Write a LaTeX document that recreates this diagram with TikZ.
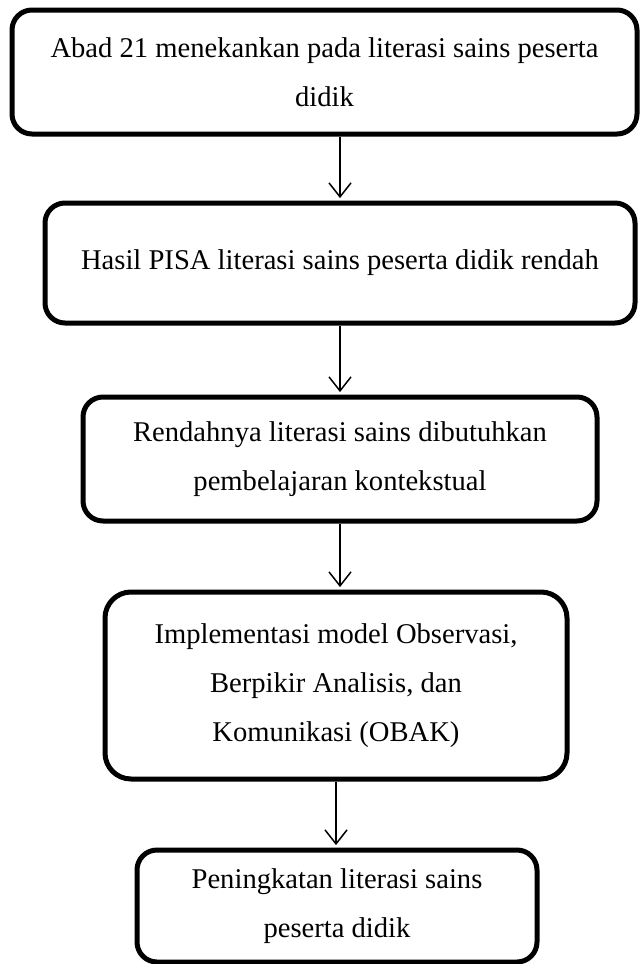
\documentclass[tikz,border=0pt]{standalone}
\usepackage{fontspec}
\setmainfont{Liberation Serif}
\usetikzlibrary{arrows.meta}

\begin{document}
\begin{tikzpicture}[x=0.5pt, y=-0.5pt,
  box/.style={draw, line width=2.5pt, rounded corners=10pt, align=center,
              inner sep=0pt, font=\fontsize{14.3}{24.6}\selectfont},
  arrow/.style={-{Straight Barb[length=7pt,width=11pt]}, line width=0.75pt,
                shorten >=1.2pt},
]
\useasboundingbox (0,0) rectangle (640,964);
% alur kerangka berpikir
\node[box, minimum width=312.5pt, minimum height=62pt] (abad) at (324.5,72)
  {Abad 21 menekankan pada literasi sains peserta\\didik};
\node[box, minimum width=295pt, minimum height=60pt] (pisa) at (340,263)
  {Hasil PISA literasi sains peserta didik rendah};
\node[box, minimum width=257pt, minimum height=62pt] (rendah) at (340,459)
  {Rendahnya literasi sains dibutuhkan\\pembelajaran kontekstual};
\node[box, rounded corners=13pt, minimum width=231pt, minimum height=93.5pt]
  (obak) at (336,685.5)
  {Implementasi model Observasi,\\Berpikir Analisis, dan\\Komunikasi (OBAK)};
\node[box, minimum width=200pt, minimum height=56pt] (naik) at (337,906)
  {Peningkatan literasi sains\\peserta didik};

\draw[arrow] (pisa.north |- abad.south) -- (pisa.north);
\draw[arrow] (pisa.south) -- (pisa.south |- rendah.north);
\draw[arrow] (rendah.south) -- (rendah.south |- obak.north);
\draw[arrow] (obak.south) -- (obak.south |- naik.north);
\end{tikzpicture}
\end{document}
